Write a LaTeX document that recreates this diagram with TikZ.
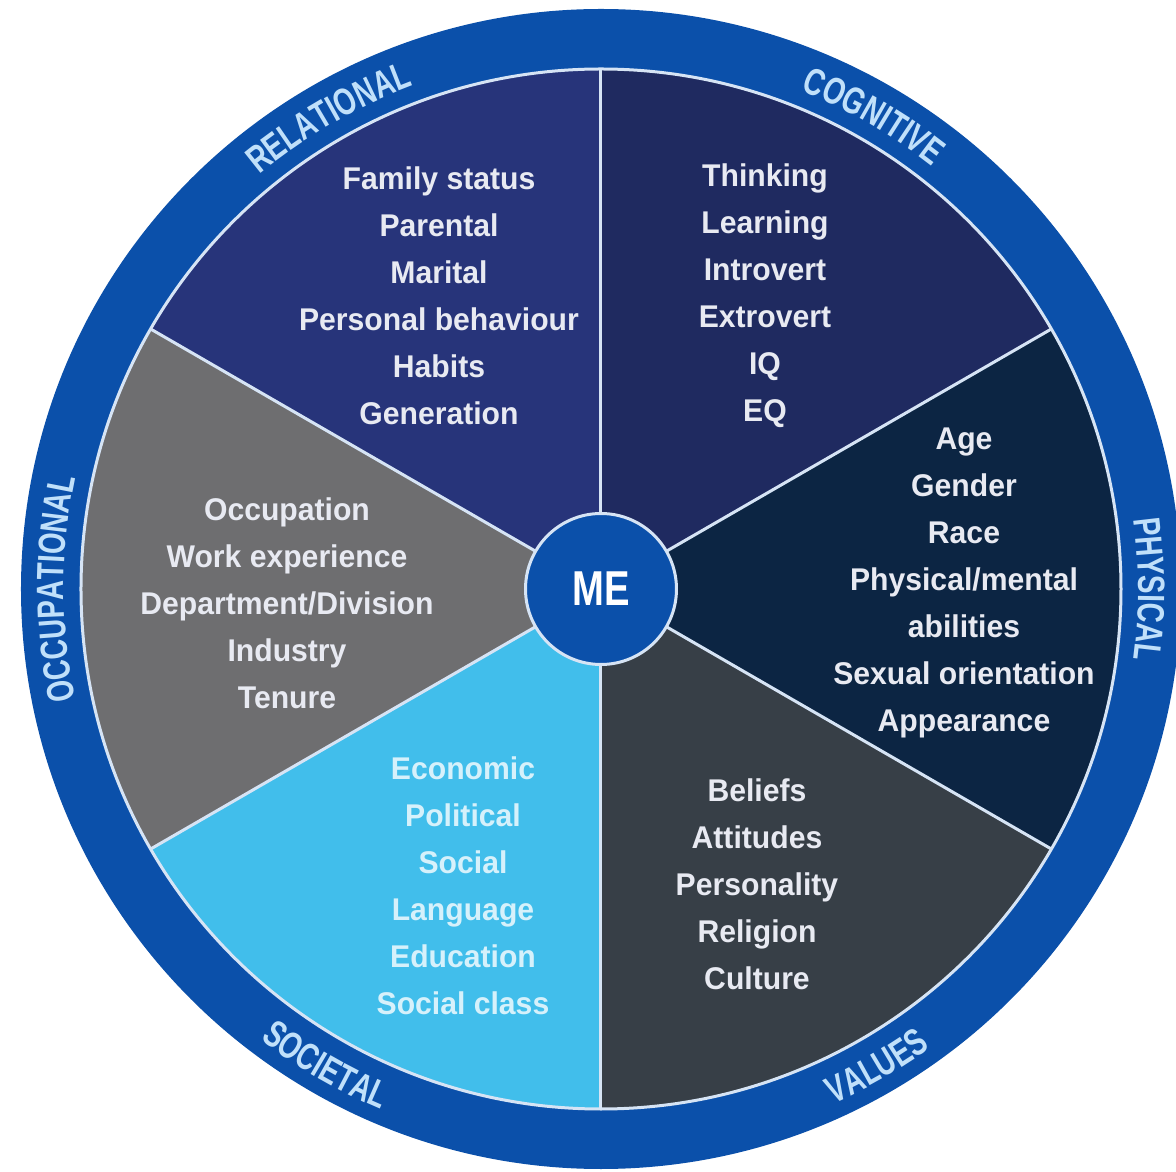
\documentclass[tikz,border=0pt]{standalone}
\usepackage{fontspec}
\setmainfont{Liberation Sans}
\newfontfamily\listfont{Liberation Sans}[FakeStretch=0.96]
\newfontfamily\ringfont{Liberation Sans}[FakeStretch=0.73]
\newfontfamily\mefont{Liberation Sans}[FakeStretch=0.78]
\usetikzlibrary{decorations.text}

\definecolor{ring}{RGB}{11,80,170}
\definecolor{edge}{RGB}{214,228,245}
\definecolor{relational}{RGB}{39,52,122}
\definecolor{cognitive}{RGB}{31,42,96}
\definecolor{physical}{RGB}{12,37,67}
\definecolor{values}{RGB}{55,63,71}
\definecolor{societal}{RGB}{65,190,235}
\definecolor{occupational}{RGB}{110,110,112}
\definecolor{itemtext}{RGB}{232,234,242}
\definecolor{socialtext}{RGB}{214,241,251}
\definecolor{ringtext}{RGB}{192,224,250}

\begin{document}
\begin{tikzpicture}[x=1pt,y=1pt,
    items/.style={align=center,text=itemtext,font=\listfont\bfseries\fontsize{31.4}{47}\selectfont},
    divider/.style={draw=edge,line width=3pt},
    ringlabel/.style={decorate,decoration={text along path,text align=center,
        text={|\ringfont\bfseries\fontsize{38}{38}\selectfont\color{ringtext}|#1}}}]
  \useasboundingbox (-601,-583) rectangle (575,589);
  % the six slices, then the outer band
  \foreach \a/\col in {-30/physical,30/cognitive,90/relational,150/occupational,210/societal,270/values}
    \fill[\col] (0,0) -- (\a:520) arc[start angle=\a,delta angle=60,radius=520] -- cycle;
  \fill[ring,even odd rule] (0,0) circle[radius=580] (0,0) circle[radius=520];
  \draw[divider] (0,0) circle[radius=520];
  \foreach \a in {-30,30,...,270}
    \draw[divider] (0,0) -- (\a:520);
  \node[circle,fill=ring,draw=edge,line width=3pt,minimum size=151,text=white,
    font=\mefont\bfseries\fontsize{49}{49}\selectfont] (me) at (0,0) {ME};

  % band labels: upper ones run clockwise, lower ones counterclockwise
  \path[ringlabel=RELATIONAL] (150:537) arc[start angle=150,end angle=90,radius=537];
  \path[ringlabel=COGNITIVE] (90:537) arc[start angle=90,end angle=30,radius=537];
  \path[ringlabel=PHYSICAL] (60:537) arc[start angle=60,end angle=-60,radius=537];
  \path[ringlabel=OCCUPATIONAL] (240:537) arc[start angle=240,end angle=120,radius=537];
  \path[ringlabel=SOCIETAL] (210:565) arc[start angle=210,end angle=270,radius=565];
  \path[ringlabel=VALUES] (270:565) arc[start angle=270,end angle=330,radius=565];

  % what each slice covers
  \node[items] (rel) at (-162,293) {Family status\\Parental\\Marital\\Personal behaviour\\Habits\\Generation};
  \node[items] (cog) at (164,293) {Thinking\\Learning\\Introvert\\Extrovert\\IQ\\EQ};
  \node[items] (phy) at (363,6.5) {Age\\Gender\\Race\\Physical/mental\\abilities\\Sexual orientation\\Appearance};
  \node[items] (occ) at (-314,-14.5) {Occupation\\Work experience\\Department/Division\\Industry\\Tenure};
  \node[items,text=socialtext] (soc) at (-138,-297) {Economic\\Political\\Social\\Language\\Education\\Social class};
  \node[items] (val) at (156,-295.5) {Beliefs\\Attitudes\\Personality\\Religion\\Culture};
\end{tikzpicture}
\end{document}
